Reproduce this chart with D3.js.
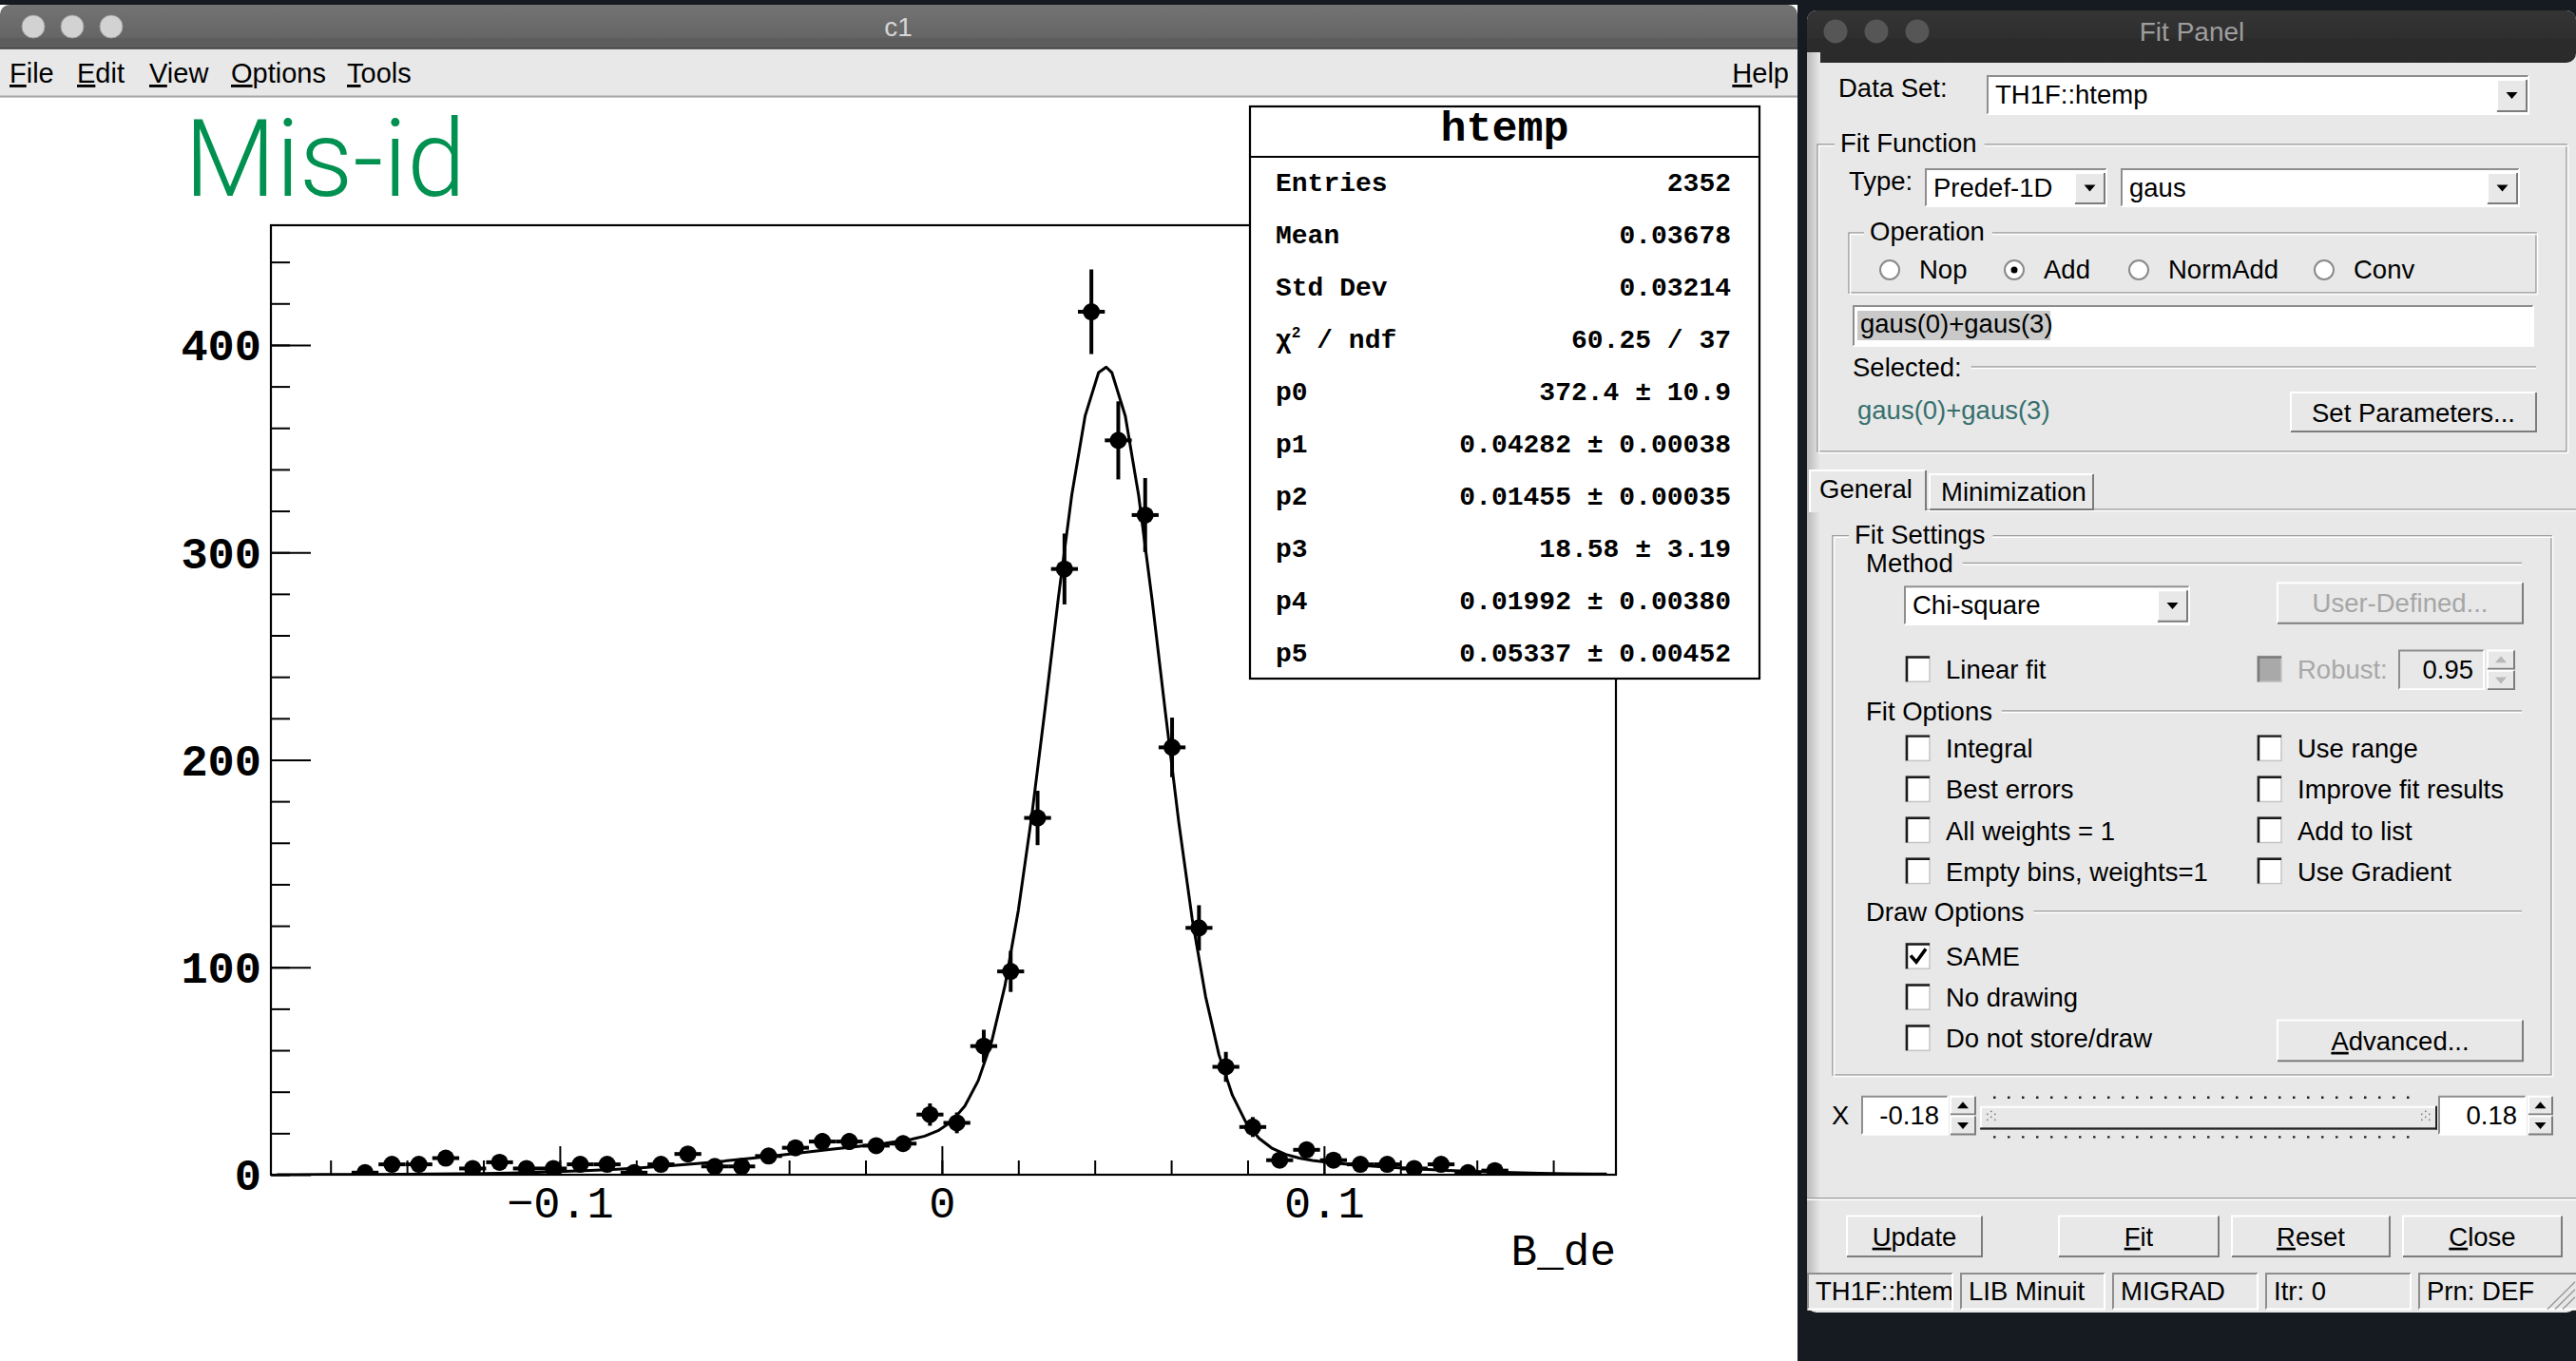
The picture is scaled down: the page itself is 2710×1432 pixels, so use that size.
<!DOCTYPE html>
<html>
<head>
<meta charset="utf-8">
<script src="https://cdn.jsdelivr.net/npm/d3@7"></script>
<style>
body { margin: 0; background: #161b22; overflow: hidden; }
svg { display: block; }
text { font-family: "Liberation Sans", Arial, sans-serif; }
.mono { font-family: "Liberation Mono", monospace; }
</style>
</head>
<body>
<div id="vis"></div>
<script>
// histogram htemp : 50 bins, entries only in bins 3..45
var xRange = [-0.1756, 0.1764];
var nBins = 50;
var firstBin = 3;
var counts = [1,5,5,8,3,6,3,3,5,5,1,5,10,4,4,9,13,16,16,14,15,29,25,62,98,172,292,416,354,318,206,119,52,23,7,12,7,5,5,3,5,1,2];
var yMax = 457.7;

// fitted curve gaus(0)+gaus(3)
var fitX = [-0.174,-0.169,-0.162,-0.155,-0.148,-0.141,-0.134,-0.127,-0.120,-0.113,-0.106,-0.099,-0.092,-0.085,-0.078,-0.071,-0.064,-0.057,-0.050,-0.043,-0.036,-0.029,-0.022,-0.015,-0.008,-0.0045,-0.001,0.0025,0.006,0.0095,0.013,0.0165,0.020,0.0235,0.027,0.0305,0.034,0.0375,0.041,0.043,0.0445,0.048,0.0515,0.055,0.0585,0.062,0.0655,0.069,0.0725,0.076,0.0795,0.083,0.0865,0.090,0.0935,0.097,0.1005,0.1075,0.1145,0.1215,0.1285,0.1355,0.1425,0.1495,0.1565,0.1635,0.1705,0.174];
var fitY = [0.03,0.04,0.06,0.09,0.13,0.20,0.29,0.42,0.60,0.84,1.15,1.55,2.06,2.69,3.45,4.35,5.40,6.58,7.88,9.27,10.73,12.21,13.67,15.14,17.04,18.61,21.2,25.6,33.1,45.3,64.0,91.1,127.4,172.8,224.6,278.4,327.8,365.9,386.7,389.3,386.6,365.7,327.3,277.3,222.7,169.8,123.4,86.0,57.9,38.4,25.5,17.5,12.6,9.8,8.04,6.9,6.08,4.85,3.86,3.04,2.35,1.78,1.33,0.98,0.70,0.50,0.35,0.29];

var yLabels = [0, 100, 200, 300, 400];
var xLabels = [-0.1, 0, 0.1];

var statNames = ["Entries", "Mean", "Std Dev", "chi2", "p0", "p1", "p2", "p3", "p4", "p5"];
var statValues = ["2352", "0.03678", "0.03214", "60.25 / 37", "372.4 ± 10.9", "0.04282 ± 0.00038",
  "0.01455 ± 0.00035", "18.58 ± 3.19", "0.01992 ± 0.00380", "0.05337 ± 0.00452"];

var menuItems = ["File", "Edit", "View", "Options", "Tools"];
var menuX = [10, 81, 157, 243, 365];
var radioNames = ["Nop", "Add", "NormAdd", "Conv"];
var fitOptsLeft = ["Integral", "Best errors", "All weights = 1", "Empty bins, weights=1"];
var fitOptsRight = ["Use range", "Improve fit results", "Add to list", "Use Gradient"];
var drawOpts = ["SAME", "No drawing", "Do not store/draw"];
var bottomButtons = ["Update", "Fit", "Reset", "Close"];
var statusCells = ["TH1F::htemp", "LIB Minuit", "MIGRAD", "Itr: 0", "Prn: DEF"];

var svg = d3.select('#vis').append('svg').attr('width', 2710).attr('height', 1432);
var defs = svg.append('defs');

var tg = defs.append('linearGradient').attr('id', 'tbar').attr('x1', 0).attr('y1', 0).attr('x2', 0).attr('y2', 1);
tg.append('stop').attr('offset', 0).attr('stop-color', '#737373');
tg.append('stop').attr('offset', 1).attr('stop-color', '#5b5b5b');
var tg2 = defs.append('linearGradient').attr('id', 'tbar2').attr('x1', 0).attr('y1', 0).attr('x2', 0).attr('y2', 1);
tg2.append('stop').attr('offset', 0).attr('stop-color', '#343434');
tg2.append('stop').attr('offset', 1).attr('stop-color', '#2a2a2a');
var sh = defs.append('linearGradient').attr('id', 'shade').attr('x1', 0).attr('y1', 0).attr('x2', 1).attr('y2', 0);
sh.append('stop').attr('offset', 0).attr('stop-color', '#b9b9b9');
sh.append('stop').attr('offset', 1).attr('stop-color', '#e8e8e8');

// ---------------- c1 window ----------------
var c1 = svg.append('g');
c1.append('rect').attr('x', 0).attr('y', 5).attr('width', 1891).attr('height', 1427).attr('fill', '#fff');
c1.append('rect').attr('x', 0).attr('y', 5).attr('width', 1891).attr('height', 60).attr('rx', 10).attr('fill', 'url(#tbar)');
c1.append('rect').attr('x', 0).attr('y', 40).attr('width', 1891).attr('height', 11).attr('fill', '#5d5d5d');
c1.append('rect').attr('x', 0).attr('y', 51).attr('width', 1891).attr('height', 52).attr('fill', '#e8e8e8');
c1.append('line').attr('x1', 0).attr('x2', 1891).attr('y1', 51).attr('y2', 51).attr('stroke', '#3c3c3c').attr('stroke-width', 1.5);
c1.append('line').attr('x1', 0).attr('x2', 1891).attr('y1', 101.5).attr('y2', 101.5).attr('stroke', '#a8a8a8').attr('stroke-width', 2);
[35, 76, 117].forEach(function(cx) {
  c1.append('circle').attr('cx', cx).attr('cy', 28).attr('r', 12).attr('fill', '#d2d2d2').attr('stroke', '#a0a0a0');
});
c1.append('text').attr('x', 945).attr('y', 38).attr('text-anchor', 'middle').attr('font-size', 28).attr('fill', '#d6d6d6').text('c1');

function ulabel(g, xx, yy, s, size, anchor) {
  var t = g.append('text').attr('x', xx).attr('y', yy).attr('font-size', size).attr('fill', '#000');
  if (anchor) t.attr('text-anchor', anchor);
  t.append('tspan').style('text-decoration', 'underline').text(s[0]);
  t.append('tspan').text(s.slice(1));
  return t;
}
menuItems.forEach(function(m, i) { ulabel(c1, menuX[i], 87, m, 29); });
ulabel(c1, 1882, 87, 'Help', 29, 'end');

// ---------------- plot ----------------
var frame = {l: 285, r: 1700, t: 237, b: 1236};
var x = d3.scaleLinear().domain(xRange).range([frame.l, frame.r]);
var y = d3.scaleLinear().domain([0, yMax]).range([frame.b, frame.t]);
var binW = (xRange[1] - xRange[0]) / nBins;

var plot = svg.append('g');
plot.append('text').attr('x', 194).attr('y', 206).attr('font-size', 113).attr('font-weight', 300)
  .attr('textLength', 296).attr('lengthAdjust', 'spacingAndGlyphs')
  .style('font-family', 'Roboto, "Liberation Sans", sans-serif').attr('fill', '#009150').text('Mis-id');

defs.append('clipPath').attr('id', 'fclip').append('rect')
  .attr('x', frame.l).attr('y', frame.t).attr('width', frame.r - frame.l).attr('height', frame.b - frame.t);

// minor ticks, then labelled major ticks
var yMinor = plot.append('g').attr('transform', 'translate(' + frame.l + ',0)')
  .call(d3.axisLeft(y).tickValues(y.ticks(23)).tickSizeInner(-20).tickSizeOuter(0).tickFormat(''));
var yMajor = plot.append('g').attr('transform', 'translate(' + frame.l + ',0)')
  .call(d3.axisLeft(y).tickValues(yLabels).tickSizeInner(-42).tickSizeOuter(0).tickPadding(10).tickFormat(d3.format('d')));
var xMinor = plot.append('g').attr('transform', 'translate(0,' + frame.b + ')')
  .call(d3.axisBottom(x).tickValues(x.ticks(18)).tickSizeInner(-15).tickSizeOuter(0).tickFormat(''));
var xMajor = plot.append('g').attr('transform', 'translate(0,' + frame.b + ')')
  .call(d3.axisBottom(x).tickValues(xLabels).tickSizeInner(-30).tickSizeOuter(0).tickPadding(14).tickFormat(d3.format('~g')));
[yMinor, yMajor, xMinor, xMajor].forEach(function(a) {
  a.select('.domain').remove();
  a.selectAll('line').attr('stroke', '#000').attr('stroke-width', 2);
});
yMajor.selectAll('text').attr('class', 'mono').attr('font-size', 47).attr('font-weight', 'bold').attr('fill', '#000').attr('dy', '0.34em');
xMajor.selectAll('text').attr('class', 'mono').attr('font-size', 47).attr('fill', '#000').attr('dy', '0.66em');

plot.append('rect').attr('x', frame.l).attr('y', frame.t).attr('width', frame.r - frame.l).attr('height', frame.b - frame.t)
  .attr('fill', 'none').attr('stroke', '#000').attr('stroke-width', 2.2);

plot.append('text').attr('class', 'mono').attr('x', 1700).attr('y', 1331).attr('text-anchor', 'end')
  .attr('font-size', 46).attr('fill', '#000').text('B_de');

var pts = counts.map(function(c, i) {
  var lo = xRange[0] + (firstBin + i) * binW;
  return {lo: lo, hi: lo + binW, xc: lo + binW / 2, v: c, e: Math.sqrt(c)};
});
var data = plot.append('g').attr('clip-path', 'url(#fclip)');
data.selectAll('line.ex').data(pts).enter().append('line').attr('class', 'ex')
  .attr('x1', function(d) { return x(d.lo); }).attr('x2', function(d) { return x(d.hi); })
  .attr('y1', function(d) { return y(d.v); }).attr('y2', function(d) { return y(d.v); })
  .attr('stroke', '#000').attr('stroke-width', 4);
data.selectAll('line.ey').data(pts).enter().append('line').attr('class', 'ey')
  .attr('x1', function(d) { return x(d.xc); }).attr('x2', function(d) { return x(d.xc); })
  .attr('y1', function(d) { return y(d.v - d.e); }).attr('y2', function(d) { return y(d.v + d.e); })
  .attr('stroke', '#000').attr('stroke-width', 4);
data.selectAll('circle').data(pts).enter().append('circle')
  .attr('cx', function(d) { return x(d.xc); }).attr('cy', function(d) { return y(d.v); })
  .attr('r', 9).attr('fill', '#000');

var fitLine = d3.line().x(function(d, i) { return x(fitX[i]); }).y(function(d) { return y(d); });
data.append('path').attr('d', fitLine(fitY)).attr('fill', 'none').attr('stroke', '#000').attr('stroke-width', 3)
  .attr('stroke-linejoin', 'round');

// stats box
var st = svg.append('g');
st.append('rect').attr('x', 1315).attr('y', 112).attr('width', 536).attr('height', 602)
  .attr('fill', '#fff').attr('stroke', '#000').attr('stroke-width', 2.2);
st.append('line').attr('x1', 1315).attr('x2', 1851).attr('y1', 165).attr('y2', 165).attr('stroke', '#000').attr('stroke-width', 2.2);
st.append('text').attr('class', 'mono').attr('x', 1583).attr('y', 148).attr('text-anchor', 'middle')
  .attr('font-size', 45).attr('font-weight', 'bold').attr('fill', '#000').text('htemp');
statNames.forEach(function(n, i) {
  var yy = 200.5 + i * 55;
  var t = st.append('text').attr('class', 'mono').attr('x', 1342).attr('y', yy).attr('font-size', 28)
    .attr('font-weight', 'bold').attr('fill', '#000');
  if (n === 'chi2') {
    t.append('tspan').text('χ');
    t.append('tspan').attr('font-size', 16).attr('dy', -11).text('2');
    t.append('tspan').attr('dy', 11).text(' / ndf');
  } else {
    t.text(n);
  }
  st.append('text').attr('class', 'mono').attr('x', 1821).attr('y', yy).attr('text-anchor', 'end')
    .attr('font-size', 28).attr('font-weight', 'bold').attr('fill', '#000').text(statValues[i]);
});

// ---------------- Fit Panel window ----------------
var fp = svg.append('g');
fp.append('rect').attr('x', 1901).attr('y', 11).attr('width', 809).attr('height', 1370).attr('rx', 10).attr('fill', '#e8e8e8');
fp.append('rect').attr('x', 1901).attr('y', 11).attr('width', 809).attr('height', 55).attr('rx', 10).attr('fill', 'url(#tbar2)');
fp.append('rect').attr('x', 1901).attr('y', 40).attr('width', 809).attr('height', 15).attr('fill', '#2b2b2b');
fp.append('rect').attr('x', 1901).attr('y', 55).attr('width', 14).attr('height', 1312).attr('fill', 'url(#shade)');
[1931, 1974, 2017].forEach(function(cx) {
  fp.append('circle').attr('cx', cx).attr('cy', 33).attr('r', 12.5).attr('fill', '#565656');
});
fp.append('text').attr('x', 2306).attr('y', 43).attr('text-anchor', 'middle').attr('font-size', 28).attr('fill', '#9e9e9e').text('Fit Panel');

var FS = 27.5;
function txt(g, xx, yy, s, fill, anchor) {
  var t = g.append('text').attr('x', xx).attr('y', yy).attr('font-size', FS).attr('fill', fill || '#000').text(s);
  if (anchor) t.attr('text-anchor', anchor);
  return t;
}
function bevel(g, x0, y0, x1, y1, fill, raised) {
  g.append('rect').attr('x', x0).attr('y', y0).attr('width', x1 - x0).attr('height', y1 - y0).attr('fill', fill);
  var lt = raised ? '#ffffff' : '#8e8e8e', rb = raised ? '#7c7c7c' : '#ffffff';
  g.append('path').attr('d', 'M' + (x0 + 1) + ',' + (y1 - 1) + 'V' + (y0 + 1) + 'H' + (x1 - 1))
    .attr('fill', 'none').attr('stroke', lt).attr('stroke-width', 2);
  g.append('path').attr('d', 'M' + (x0 + 1) + ',' + (y1 - 1) + 'H' + (x1 - 1) + 'V' + (y0 + 1))
    .attr('fill', 'none').attr('stroke', rb).attr('stroke-width', 2);
}
function tri(g, cx, cy, up, col) {
  var d = up ? 'M' + (cx - 6) + ',' + (cy + 3) + 'L' + (cx + 6) + ',' + (cy + 3) + 'L' + cx + ',' + (cy - 4) + 'Z'
             : 'M' + (cx - 6) + ',' + (cy - 3) + 'L' + (cx + 6) + ',' + (cy - 3) + 'L' + cx + ',' + (cy + 4) + 'Z';
  g.append('path').attr('d', d).attr('fill', col || '#000');
}
function combo(g, x0, y0, x1, y1, s) {
  bevel(g, x0, y0, x1, y1, '#fff', false);
  txt(g, x0 + 9, y0 + 30, s);
  bevel(g, x1 - 35, y0 + 4, x1 - 2, y1 - 3, '#e8e8e8', true);
  tri(g, x1 - 18.5, (y0 + y1) / 2, false);
}
function etchLine(g, x0, x1, yy) {
  g.append('line').attr('x1', x0).attr('x2', x1).attr('y1', yy).attr('y2', yy).attr('stroke', '#9c9c9c').attr('stroke-width', 1.5);
  g.append('line').attr('x1', x0).attr('x2', x1).attr('y1', yy + 1.5).attr('y2', yy + 1.5).attr('stroke', '#fff').attr('stroke-width', 1.5);
}
function group(g, x0, y0, x1, y1, s, lx) {
  g.append('rect').attr('x', x0).attr('y', y0).attr('width', x1 - x0).attr('height', y1 - y0)
    .attr('fill', 'none').attr('stroke', '#9c9c9c').attr('stroke-width', 1.5);
  g.append('rect').attr('x', x0 + 1.5).attr('y', y0 + 1.5).attr('width', x1 - x0).attr('height', y1 - y0)
    .attr('fill', 'none').attr('stroke', '#fff').attr('stroke-width', 1.5);
  var bg = g.append('rect').attr('fill', '#e8e8e8');
  var t = txt(g, lx, y0 + 8, s);
  var w = t.node().getComputedTextLength();
  bg.attr('x', lx - 6).attr('y', y0 - 10).attr('width', w + 14).attr('height', 20);
}
function labelLine(g, xx, yy, s, x1) {
  var t = txt(g, xx, yy, s);
  var w = t.node().getComputedTextLength();
  etchLine(g, xx + w + 10, x1, yy - 10);
}
function checkbox(g, x0, base, s, checked, disabled) {
  var y0 = base - 24;
  g.append('rect').attr('x', x0).attr('y', y0).attr('width', 25).attr('height', 27)
    .attr('fill', disabled ? '#a9a9a9' : '#fff').attr('stroke', '#c4c4c4').attr('stroke-width', 1.5);
  g.append('path').attr('d', 'M' + (x0 + 1) + ',' + (y0 + 27) + 'V' + (y0 + 1) + 'H' + (x0 + 25))
    .attr('fill', 'none').attr('stroke', disabled ? '#7a7a7a' : '#1a1a1a').attr('stroke-width', 2.5);
  if (checked) {
    g.append('path').attr('d', 'M' + (x0 + 5) + ',' + (y0 + 13) + 'L' + (x0 + 11) + ',' + (y0 + 20) + 'L' + (x0 + 21) + ',' + (y0 + 6))
      .attr('fill', 'none').attr('stroke', '#000').attr('stroke-width', 3.5);
  }
  txt(g, x0 + 42, base, s, disabled ? '#a8a8a8' : '#000');
}
function button(g, x0, y0, x1, y1, s, under, col) {
  bevel(g, x0, y0, x1, y1, '#e8e8e8', true);
  var base = y0 + (y1 - y0) / 2 + 10;
  if (under) {
    ulabel(g, (x0 + x1) / 2, base, s, FS, 'middle');
  } else {
    txt(g, (x0 + x1) / 2, base, s, col, 'middle');
  }
}
function spin(g, x0, y0, x1, y1, col) {
  var ym = (y0 + y1) / 2;
  bevel(g, x0, y0, x1, ym, '#e8e8e8', true);
  bevel(g, x0, ym, x1, y1, '#e8e8e8', true);
  tri(g, (x0 + x1) / 2, (y0 + ym) / 2, true, col);
  tri(g, (x0 + x1) / 2, (ym + y1) / 2, false, col);
}

txt(fp, 1934, 102, 'Data Set:');
combo(fp, 2090, 79, 2661, 121, 'TH1F::htemp');

group(fp, 1912, 152, 2700, 475, 'Fit Function', 1936);
txt(fp, 1945, 200, 'Type:');
combo(fp, 2025, 177, 2217, 218, 'Predef-1D');
combo(fp, 2231, 177, 2651, 218, 'gaus');

group(fp, 1945, 245, 2668, 308, 'Operation', 1967);
var radioX = [1988, 2119, 2250, 2445];
radioNames.forEach(function(r, i) {
  fp.append('circle').attr('cx', radioX[i]).attr('cy', 284).attr('r', 10).attr('fill', '#fff').attr('stroke', '#8a8a8a').attr('stroke-width', 2);
  fp.append('path').attr('d', d3.arc()({innerRadius: 9, outerRadius: 11, startAngle: -Math.PI * 0.75, endAngle: Math.PI * 0.25 - Math.PI}))
    .attr('transform', 'translate(' + radioX[i] + ',284)').attr('fill', '#2a2a2a');
  if (r === 'Add') fp.append('circle').attr('cx', radioX[i]).attr('cy', 284).attr('r', 3.5).attr('fill', '#000');
  txt(fp, radioX[i] + 31, 293, r);
});

bevel(fp, 1949, 321, 2666, 365, '#fff', false);
fp.append('rect').attr('x', 1954).attr('y', 327).attr('width', 203).attr('height', 31).attr('fill', '#c9c9c9');
txt(fp, 1957, 350, 'gaus(0)+gaus(3)');

labelLine(fp, 1949, 396, 'Selected:', 2668);
txt(fp, 1954, 441, 'gaus(0)+gaus(3)', '#36706e');
button(fp, 2409, 412, 2669, 455, 'Set Parameters...');

// tabs
etchLine(fp, 2027, 2710, 536);
bevel(fp, 2029, 498, 2203, 537, '#e8e8e8', true);
txt(fp, 2042, 527, 'Minimization');
fp.append('rect').attr('x', 1903).attr('y', 494).attr('width', 124).attr('height', 45).attr('fill', '#e8e8e8');
fp.append('path').attr('d', 'M1904,539V495H2026').attr('fill', 'none').attr('stroke', '#fff').attr('stroke-width', 2);
fp.append('path').attr('d', 'M2026,495V537').attr('fill', 'none').attr('stroke', '#7c7c7c').attr('stroke-width', 2);
txt(fp, 1914, 524, 'General');

// lower part of the panel, laid out from the crop and pulled up a touch
var lo = fp.append('g').attr('transform', 'translate(0,540) scale(1,0.99) translate(0,-540)');
group(lo, 1928, 564, 2684, 1137, 'Fit Settings', 1951);
labelLine(lo, 1963, 603, 'Method', 2653);
combo(lo, 2003, 617, 2304, 659, 'Chi-square');
button(lo, 2395, 613, 2655, 658, 'User-Defined...', false, '#a6a6a6');
checkbox(lo, 2005, 716, 'Linear fit', false);
checkbox(lo, 2375, 716, '', false, true);
txt(lo, 2417, 716, 'Robust:', '#a8a8a8');
bevel(lo, 2523, 685, 2614, 728, '#e8e8e8', false);
txt(lo, 2602, 716, '0.95', '#000', 'end');
spin(lo, 2616, 685, 2646, 728, '#b8b8b8');

labelLine(lo, 1963, 760, 'Fit Options', 2653);
fitOptsLeft.forEach(function(s, i) { checkbox(lo, 2005, 800 + i * 43.5, s, false); });
fitOptsRight.forEach(function(s, i) { checkbox(lo, 2375, 800 + i * 43.5, s, false); });

labelLine(lo, 1963, 973, 'Draw Options', 2653);
drawOpts.forEach(function(s, i) { checkbox(lo, 2005, 1021 + i * 43.5, s, i === 0); });
button(lo, 2395, 1078, 2655, 1123, 'Advanced...', true);

// range row
txt(lo, 1927, 1189, 'X');
bevel(lo, 1958, 1159, 2050, 1201, '#fff', false);
txt(lo, 2040, 1189, '-0.18', '#000', 'end');
spin(lo, 2051, 1159, 2079, 1201, '#000');
[1161, 1203].forEach(function(yy) {
  lo.append('line').attr('x1', 2097).attr('x2', 2546).attr('y1', yy).attr('y2', yy)
    .attr('stroke', '#222').attr('stroke-width', 2.5).attr('stroke-dasharray', '2.5,12.5');
});
bevel(lo, 2083, 1170, 2564, 1195, '#e8e8e8', true);
lo.append('line').attr('x1', 2083).attr('x2', 2564).attr('y1', 1194).attr('y2', 1194).attr('stroke', '#222').attr('stroke-width', 2);
lo.append('line').attr('x1', 2563).attr('x2', 2563).attr('y1', 1170).attr('y2', 1195).attr('stroke', '#222').attr('stroke-width', 2);
[2094, 2551].forEach(function(gx) {
  [[0, 0], [4, 3], [0, 6], [4, 9], [-4, 3], [-4, 9]].forEach(function(o) {
    lo.append('rect').attr('x', gx + o[0]).attr('y', 1175 + o[1]).attr('width', 1.5).attr('height', 1.5).attr('fill', '#777');
  });
});
bevel(lo, 2565, 1159, 2658, 1201, '#fff', false);
txt(lo, 2648, 1189, '0.18', '#000', 'end');
spin(lo, 2659, 1159, 2686, 1201, '#000');

etchLine(lo, 1901, 2710, 1268);
var btnX = [[1942, 2086], [2165, 2335], [2347, 2515], [2527, 2696]];
bottomButtons.forEach(function(b, i) { button(lo, btnX[i][0], 1286, btnX[i][1], 1331, b, true); });

var cellX = [[1901, 2055], [2062, 2215], [2222, 2376], [2383, 2537], [2544, 2712]];
statusCells.forEach(function(s, i) {
  defs.append('clipPath').attr('id', 'sc' + i).append('rect')
    .attr('x', cellX[i][0]).attr('y', 1347).attr('width', cellX[i][1] - cellX[i][0] - 2).attr('height', 40);
  bevel(lo, cellX[i][0], 1347, cellX[i][1], 1387, '#e8e8e8', false);
  txt(lo, cellX[i][0] + 9, 1376, s).attr('clip-path', 'url(#sc' + i + ')');
});
[0, 8, 16].forEach(function(o) {
  lo.append('line').attr('x1', 2680 + o).attr('y1', 1386).attr('x2', 2709).attr('y2', 1357 + o)
    .attr('stroke', '#9a9a9a').attr('stroke-width', 1.5);
});
</script>
</body>
</html>
